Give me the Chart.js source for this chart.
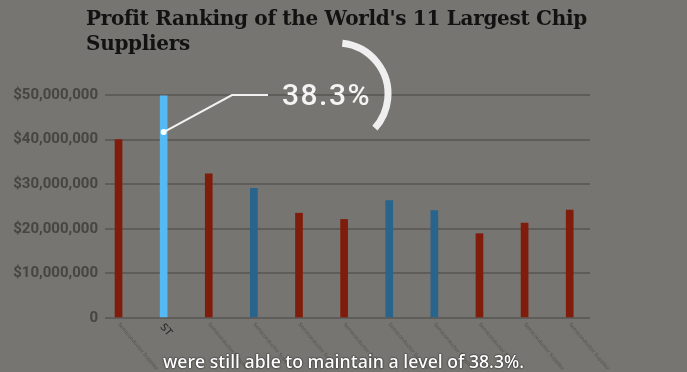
<!DOCTYPE html>
<html lang="en">
<head>
    <meta charset="UTF-8">
    <title>Profit Ranking of the World's 11 Largest Chip Suppliers</title>
    <script src="https://cdn.jsdelivr.net/npm/chart.js"></script>
    <style>
        html, body { margin: 0; padding: 0; }
        body { width: 687px; height: 372px; background: #767571; position: relative; overflow: hidden; }
        #wrap { position: absolute; left: 0; top: 0; width: 687px; height: 372px; }
        .title {
            position: absolute; left: 86px; top: 6px; margin: 0;
            font-family: "DejaVu Serif", serif; font-weight: bold; font-size: 20px;
            line-height: 25px; color: #121212; letter-spacing: -0.3px;
        }
        .big {
            position: absolute; left: 282px; top: 77px;
            font-family: Roboto, sans-serif; font-weight: 500; font-size: 30px;
            color: #f4f4f4; letter-spacing: 1.5px;
        }
        .caption {
            position: absolute; left: 0; width: 687px; top: 349px; text-align: center;
            font-family: "Open Sans", sans-serif; font-weight: 600; font-size: 17.6px;
            color: #ffffff; text-shadow: 0 0 2px #222, 0 0 1px #000;
        }
    </style>
</head>
<body>
    <div id="wrap"><canvas id="chart" width="687" height="372"></canvas></div>
    <h1 class="title">Profit Ranking of the World's 11 Largest Chip<br>Suppliers</h1>
    <div class="big">38.3%</div>
    <div class="caption">were still able to maintain a level of 38.3%.</div>

    <script>
        // data
        var categories = ['Semiconductor Supplier', 'ST', 'Semiconductor Supplier', 'Semiconductor Supplier',
            'Semiconductor Supplier', 'Semiconductor Supplier', 'Semiconductor Supplier', 'Semiconductor Supplier',
            'Semiconductor Supplier', 'Semiconductor Supplier', 'Semiconductor Supplier'];
        var profits = [40000000, 49800000, 32300000, 29100000, 23500000, 22100000, 26300000, 24100000, 18900000, 21300000, 24200000];
        var barKinds = ['red', 'highlight', 'red', 'blue', 'red', 'red', 'blue', 'blue', 'red', 'red', 'red'];
        var yTicks = [0, 10000000, 20000000, 30000000, 40000000, 50000000];
        var calloutValue = 41700000;

        var kindColors = { red: '#801c0b', highlight: '#55b9f3', blue: '#28648c' };

        // draws the rotated category labels, the callout line and the arc
        var overlay = {
            id: 'overlay',
            afterDraw: function (chart) {
                var ctx = chart.ctx;
                var xs = chart.scales.x;
                var ys = chart.scales.y;

                categories.forEach(function (name, i) {
                    var x = xs.getPixelForValue(i);
                    ctx.save();
                    ctx.translate(x + 2, 322);
                    ctx.rotate(50 * Math.PI / 180);
                    ctx.textAlign = 'left';
                    ctx.textBaseline = 'top';
                    if (name === 'ST') {
                        ctx.font = '10px "DejaVu Sans", sans-serif';
                        ctx.fillStyle = '#1e1e1e';
                    } else {
                        ctx.font = '5px "DejaVu Sans", sans-serif';
                        ctx.fillStyle = 'rgba(70,70,66,0.7)';
                    }
                    ctx.fillText(name, 0, 0);
                    ctx.restore();
                });

                // callout from the highlighted bar
                var px = xs.getPixelForValue(1);
                var py = ys.getPixelForValue(calloutValue);
                ctx.save();
                ctx.strokeStyle = '#f2f2f2';
                ctx.lineWidth = 2;
                ctx.beginPath();
                ctx.moveTo(px, py);
                ctx.lineTo(232, 95);
                ctx.lineTo(268, 95);
                ctx.stroke();
                ctx.fillStyle = '#ffffff';
                ctx.beginPath();
                ctx.arc(px, py, 3, 0, Math.PI * 2);
                ctx.fill();

                ctx.lineWidth = 7;
                ctx.strokeStyle = '#efefef';
                ctx.beginPath();
                ctx.arc(337, 94, 51, -84 * Math.PI / 180, 42 * Math.PI / 180);
                ctx.stroke();
                ctx.restore();
            }
        };

        var ctx = document.getElementById('chart').getContext('2d');
        new Chart(ctx, {
            type: 'bar',
            data: {
                datasets: [{
                    data: profits.map(function (v, i) { return { x: i, y: v }; }),
                    backgroundColor: barKinds.map(function (k) { return kindColors[k]; }),
                    barThickness: 7
                }]
            },
            options: {
                responsive: false,
                animation: false,
                layout: { padding: { left: 0, right: 97, top: 95, bottom: 54 } },
                plugins: { legend: { display: false }, tooltip: { enabled: false } },
                scales: {
                    x: {
                        type: 'linear',
                        offset: false,
                        min: -0.3,
                        max: 10.45,
                        display: false
                    },
                    y: {
                        min: 0,
                        max: 50000000,
                        afterFit: function (scale) { scale.width = 105; },
                        afterBuildTicks: function (scale) {
                            scale.ticks = yTicks.map(function (v) { return { value: v }; });
                        },
                        border: { display: false },
                        grid: { color: '#5e5d59', lineWidth: 2, drawTicks: false },
                        ticks: {
                            padding: 7,
                            color: '#464541',
                            font: { family: 'Roboto', weight: 'bold', size: 15 },
                            callback: function (v) {
                                return v === 0 ? '0' : '$' + v.toLocaleString('en-US');
                            }
                        }
                    }
                }
            },
            plugins: [overlay]
        });
    </script>
</body>
</html>
